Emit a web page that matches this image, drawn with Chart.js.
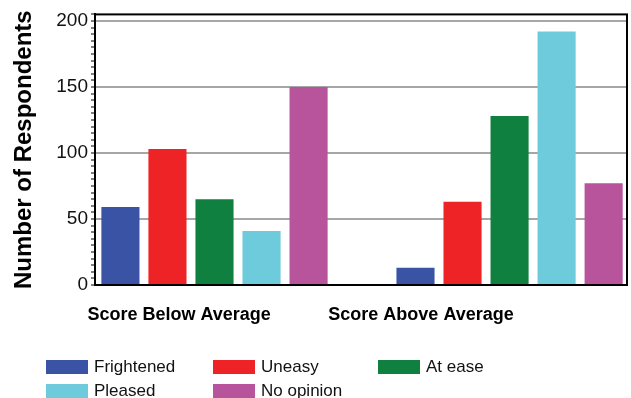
<!DOCTYPE html>
<html>
<head>
<meta charset="utf-8">
<script src="https://cdn.jsdelivr.net/npm/chart.js@4/dist/chart.umd.min.js"></script>
<style>
  html, body { margin: 0; padding: 0; background: #fff; }
  #wrap { position: relative; width: 631px; height: 398px; overflow: hidden; }
  #legend {
    position: absolute; left: 46px; top: 355px;
    display: grid; grid-template-columns: 167px 165px auto; grid-auto-rows: 24px;
    font-family: 'Liberation Sans', Arial, sans-serif; font-size: 17px; color: #111;
  }
  .lg-item { display: flex; align-items: center; white-space: nowrap; }
  .lg-box { width: 42px; height: 14px; margin-right: 6px; }
</style>
</head>
<body>
<div id="wrap">
  <canvas id="chart" width="631" height="398"></canvas>
  <div id="legend"></div>
</div>
<script>
// ── Données ─────────────────────────────────────────────────────────────
const categories  = ['Score Below Average', 'Score Above Average'];
const seriesNames = ['Frightened', 'Uneasy', 'At ease', 'Pleased', 'No opinion'];
const frightened  = [59, 13];
const uneasy      = [103, 63];
const atEase      = [65, 128];
const pleased     = [41, 192];
const noOpinion   = [150, 77];
const yTicks      = [0, 50, 100, 150, 200];

const colors = ['#3a53a4', '#ee2325', '#108040', '#6dcbdc', '#b7549c'];
const values = [frightened, uneasy, atEase, pleased, noOpinion];
const FONT = "'Liberation Sans', Arial, sans-serif";

// position des libellés de catégorie (décalés à gauche comme dans l'original)
const labelPos = [-0.12, 0.70];

// cadre noir autour de la zone de tracé
const framePlugin = {
  id: 'frame',
  afterDraw(chart) {
    const { ctx, chartArea: a } = chart;
    ctx.save();
    ctx.strokeStyle = '#000';
    ctx.lineWidth = 2;
    ctx.strokeRect(a.left, a.top, a.right - a.left, a.bottom - a.top);
    ctx.restore();
  }
};

new Chart(document.getElementById('chart'), {
  type: 'bar',
  data: {
    datasets: seriesNames.map((name, i) => ({
      label: name,
      data: values[i].map((v, j) => ({ x: j, y: v })),
      backgroundColor: colors[i],
      borderWidth: 0,
      categoryPercentage: 0.972,
      barPercentage: 0.81,
    }))
  },
  options: {
    responsive: false,
    animation: false,
    layout: { padding: { top: 14, right: 4, left: 0, bottom: 0 } },
    plugins: { legend: { display: false }, tooltip: { enabled: false } },
    scales: {
      x: {
        type: 'linear',
        offset: false,
        min: -0.405, max: 1.398,
        grid: { display: false, drawTicks: false },
        border: { color: '#000', width: 2 },
        afterBuildTicks: s => { s.ticks = labelPos.map(v => ({ value: v })); },
        ticks: {
          color: '#000', padding: 19,
          font: { family: FONT, size: 18, weight: 'bold' },
          callback: (v, i) => categories[i],
        },
        afterFit: s => { s.height = 113; },
      },
      y: {
        min: 0, max: 205,
        border: { color: '#000', width: 2 },
        grid: {
          color: c => yTicks.includes(c.tick && c.tick.value) ? '#a6a6a6' : 'rgba(0,0,0,0)',
          lineWidth: 2,
          tickColor: '#000', tickWidth: 1, tickLength: 4,
        },
        ticks: {
          stepSize: 5, autoSkip: false, padding: 3, color: '#111',
          font: { family: FONT, size: 19 },
          callback: v => yTicks.includes(v) ? v : '',
        },
        title: {
          display: true, text: 'Number of Respondents', color: '#000',
          font: { family: FONT, size: 24, weight: 'bold' },
          padding: { top: 10, bottom: 0 },
        },
        afterFit: s => { s.width = 95; },
      }
    }
  },
  plugins: [framePlugin]
});

// ── Légende HTML ────────────────────────────────────────────────────────
const legendEl = document.getElementById('legend');
seriesNames.forEach((name, i) => {
  legendEl.innerHTML += `<div class="lg-item"><span class="lg-box" style="background:${colors[i]}"></span>${name}</div>`;
});
</script>
</body>
</html>
